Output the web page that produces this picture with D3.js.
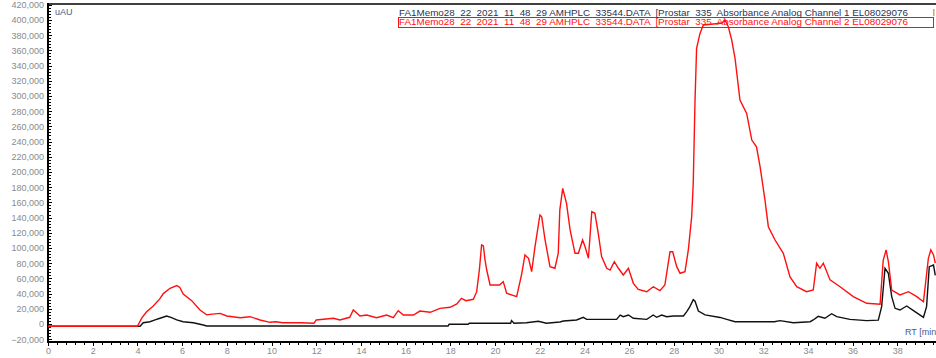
<!DOCTYPE html>
<html>
<head>
<meta charset="utf-8">
<script src="https://cdn.jsdelivr.net/npm/d3@7"></script>
<style>
  body { margin: 0; background: #fff; overflow: hidden; }
  svg { display: block; }
  text { font-family: "Liberation Sans", Arial, sans-serif; }
</style>
</head>
<body>
<svg></svg>
<script>
var width = 936;
var height = 358;

// Channel 2 (red), [RT min, uAU]
var channel2 = [
  [0, -3000], [4.0, -3000], [4.2, 8000], [4.41, 16000], [4.71, 23700], [5.0, 33000],
  [5.16, 40000], [5.46, 47000], [5.76, 50500], [5.9, 48000], [6.05, 39500], [6.43, 30700],
  [6.8, 18400], [7.1, 12000], [7.25, 12700], [7.7, 14000], [8.0, 10500], [8.6, 8300],
  [9.04, 9600], [9.49, 5300], [9.93, 2200], [10.2, 3000], [10.5, 1700], [11.3, 1700],
  [11.9, 1000], [12.0, 5300], [12.77, 7500], [13.06, 5300], [13.5, 8800], [13.66, 18400],
  [13.96, 10500], [14.26, 11800], [14.7, 8300], [15.15, 11800], [15.45, 8300], [15.67, 17500],
  [15.9, 11800], [16.35, 11800], [16.64, 17000], [17.1, 15400], [17.54, 20600], [17.99, 22000],
  [18.29, 26300], [18.5, 33800], [18.7, 30700], [19.03, 32500], [19.18, 42500], [19.3, 71000],
  [19.4, 104000], [19.48, 102600], [19.55, 85000], [19.63, 71000], [19.78, 51300], [20.2, 51300],
  [20.37, 55700], [20.52, 40400], [20.97, 36000], [21.2, 66700], [21.34, 90800], [21.5, 86400],
  [21.64, 68800], [21.79, 101700], [22.01, 143400], [22.09, 141000], [22.24, 110500], [22.46, 75400],
  [22.68, 73300], [22.83, 93000], [22.9, 150000], [23.03, 178500], [23.2, 158800], [23.36, 123700],
  [23.58, 93000], [23.73, 93000], [23.92, 110500], [24.03, 101700], [24.18, 86400], [24.33, 147800],
  [24.47, 145600], [24.62, 119300], [24.77, 88600], [25.0, 73300], [25.15, 71000], [25.34, 82000],
  [25.52, 73300], [25.74, 64500], [25.97, 73300], [26.19, 53500], [26.41, 45600], [26.79, 42500],
  [27.08, 49000], [27.38, 43900], [27.6, 51300], [27.83, 95000], [27.95, 95000], [28.13, 75400],
  [28.28, 66700], [28.5, 68800], [28.65, 97400], [28.8, 141000], [28.87, 185000], [28.95, 294700],
  [29.02, 362700], [29.17, 382000], [29.32, 393400], [29.77, 394700], [30.14, 395600], [30.29, 400000],
  [30.44, 391000], [30.59, 373700], [30.74, 349600], [30.96, 294700], [31.26, 277000], [31.49, 242000],
  [31.7, 233000], [31.86, 207000], [32.08, 163000], [32.23, 128000], [32.53, 110500], [32.9, 93000],
  [33.2, 62000], [33.5, 49000], [33.94, 42500], [34.24, 44700], [34.39, 80000], [34.54, 73300],
  [34.69, 80000], [34.99, 58000], [35.44, 49000], [36.03, 36000], [36.63, 27200], [37.23, 26000],
  [37.37, 84000], [37.5, 97400], [37.6, 82000], [37.75, 44700], [38.12, 38200], [38.5, 42500],
  [38.87, 36000], [39.17, 29300], [39.39, 86400], [39.5, 97400], [39.62, 90800], [39.7, 80000]
];

// Channel 1 (black)
var channel1 = [
  [0, -3000], [4.12, -3000], [4.26, 1700], [4.56, 3000], [4.79, 5300], [5.01, 7500],
  [5.31, 10500], [5.53, 8300], [5.76, 5300], [6.05, 3000], [6.5, 1700], [6.95, -1300],
  [7.1, -2600], [17.9, -2600], [17.95, -400], [18.8, -400], [18.85, 1000], [20.7, 1000],
  [20.74, 4400], [20.85, 1000], [21.4, 1700], [21.94, 3500], [22.3, 1000], [22.9, 2600],
  [23.06, 3900], [23.65, 5300], [23.95, 8800], [24.1, 6100], [25.44, 6100], [25.6, 11800],
  [25.74, 9600], [25.97, 11800], [26.19, 7500], [26.79, 6100], [27.08, 11800], [27.23, 8800],
  [27.46, 11800], [27.68, 9600], [27.98, 10500], [28.43, 10500], [28.58, 16200], [28.72, 22800],
  [28.87, 32000], [28.95, 30000], [29.1, 17000], [29.4, 12000], [30.07, 8600], [30.37, 6000],
  [30.74, 3000], [32.5, 3000], [32.75, 4400], [33.35, 1700], [34.1, 3000], [34.24, 5300],
  [34.46, 10000], [34.76, 7500], [35.06, 13500], [35.29, 9600], [35.88, 6100], [36.63, 4400],
  [37.15, 5000], [37.3, 22800], [37.45, 73300], [37.6, 66700], [37.75, 36000], [37.9, 20600],
  [38.12, 18400], [38.42, 23700], [38.79, 16200], [39.17, 8800], [39.31, 22800], [39.43, 75400],
  [39.62, 77600], [39.7, 64000]
];

var yTicks = d3.range(-20000, 420001, 20000);
var xTicks = d3.range(0, 39, 2);
var legendLines = [
  "FA1Memo28  22  2021  11  48  29 AMHPLC  33544.DATA  [Prostar  335  Absorbance Analog Channel 1 EL08029076",
  "FA1Memo28  22  2021  11  48  29 AMHPLC  33544.DATA  [Prostar  335  Absorbance Analog Channel 2 EL08029076"
];

var svg = d3.select("svg")
  .attr("width", width)
  .attr("height", height);

var x = d3.scaleLinear().domain([0, 40]).range([48, 942]);
var y = d3.scaleLinear().domain([-23700, 421000]).range([342, 4]);

var fmt = d3.format(",");

// frame top
svg.append("line")
  .attr("x1", 48).attr("x2", width)
  .attr("y1", 4).attr("y2", 4)
  .attr("stroke", "#000").attr("stroke-width", 1.5);

// y axis
var yAxis = svg.append("g")
  .attr("transform", "translate(48,0)")
  .call(d3.axisLeft(y).tickValues(yTicks).tickFormat(fmt).tickSize(0).tickPadding(4));
yAxis.select(".domain").remove();
yAxis.selectAll("text")
  .attr("fill", "#8a8a8a")
  .style("font-size", "9px");

svg.append("g")
  .selectAll("line")
  .data(d3.range(-20000, 420001, 4000))
  .enter()
  .append("line")
    .attr("x1", 48)
    .attr("x2", d => d % 20000 === 0 ? 52 : 51)
    .attr("y1", d => Math.round(y(d)) + 0.5)
    .attr("y2", d => Math.round(y(d)) + 0.5)
    .attr("stroke", "#000")
    .attr("stroke-width", 1);

svg.append("line")
  .attr("x1", 48).attr("x2", 48)
  .attr("y1", 3).attr("y2", 343)
  .attr("stroke", "#000").attr("stroke-width", 2);

// x axis
var xAxis = svg.append("g")
  .attr("transform", "translate(0,342)")
  .call(d3.axisBottom(x).tickValues(xTicks).tickFormat(d3.format("d")).tickSize(0).tickPadding(6));
xAxis.select(".domain").remove();
xAxis.selectAll("text")
  .attr("fill", "#8a8a8a")
  .style("font-size", "9px");

svg.append("g")
  .selectAll("line")
  .data(d3.range(0, 200).map(i => i * 0.4))
  .enter()
  .append("line")
    .attr("x1", d => Math.round(x(d)) + 0.5)
    .attr("x2", d => Math.round(x(d)) + 0.5)
    .attr("y1", 342)
    .attr("y2", (d, i) => i % 5 === 0 ? 346 : 345)
    .attr("stroke", "#000")
    .attr("stroke-width", 1);

svg.append("line")
  .attr("x1", 47).attr("x2", width)
  .attr("y1", 342).attr("y2", 342)
  .attr("stroke", "#000").attr("stroke-width", 2);

// traces
var line = d3.line()
  .x(d => x(d[0]))
  .y(d => y(d[1]));

svg.append("path")
  .datum(channel1)
  .attr("d", line)
  .attr("fill", "none")
  .attr("stroke", "#111")
  .attr("stroke-width", 1.4);

svg.append("path")
  .datum(channel2)
  .attr("d", line)
  .attr("fill", "none")
  .attr("stroke", "#ff1010")
  .attr("stroke-width", 1.4);

// labels
svg.append("text")
  .attr("x", 55).attr("y", 15)
  .attr("fill", "#4a5a8c")
  .style("font-size", "9px")
  .text("uAU");

svg.append("text")
  .attr("x", 905).attr("y", 335)
  .attr("fill", "#4a5a8c")
  .style("font-size", "9px")
  .text("RT [min");

// legend
svg.append("rect")
  .attr("x", 398.5).attr("y", 17.5)
  .attr("width", 535).attr("height", 10)
  .attr("fill", "none")
  .attr("stroke", "#ff1010")
  .attr("stroke-width", 1);

svg.selectAll(".legend")
  .data(legendLines)
  .enter()
  .append("text")
    .attr("class", "legend")
    .attr("x", 399)
    .attr("y", (d, i) => 16 + i * 9)
    .attr("fill", (d, i) => i === 0 ? "#2e3350" : "#ff1010")
    .attr("textLength", 509)
    .attr("lengthAdjust", "spacingAndGlyphs")
    .style("font-size", "9px")
    .style("white-space", "pre")
    .text(d => d);

svg.append("rect")
  .attr("x", 933).attr("y", 9)
  .attr("width", 1.5).attr("height", 7)
  .attr("fill", "#e8a040");
</script>
</body>
</html>
